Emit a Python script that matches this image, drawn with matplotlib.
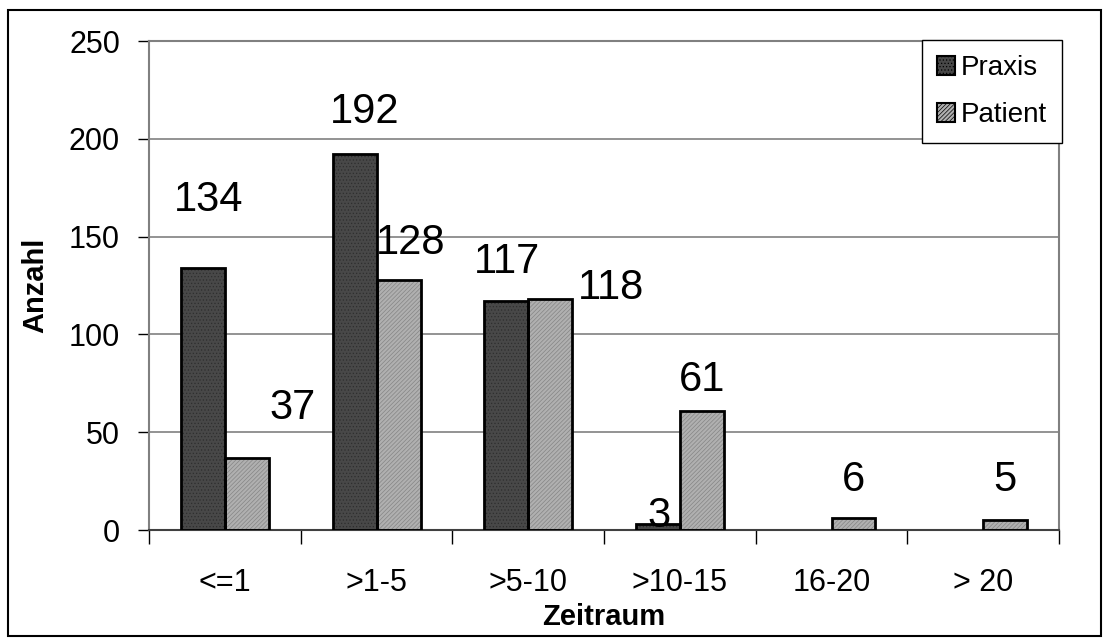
import numpy as np
import matplotlib
matplotlib.use("Agg")
import matplotlib.pyplot as plt
from matplotlib.patches import Rectangle

plt.rcParams['font.family'] = ['Liberation Sans', 'DejaVu Sans']
plt.rcParams['hatch.linewidth'] = 0.5

categories = ['<=1', '>1-5', '>5-10', '>10-15', '16-20', '> 20']
praxis = [134, 192, 117, 3, 0, 0]
patient = [37, 128, 118, 61, 6, 5]

# label offsets in pixels (dx, dy) relative to bar top centre, as placed in the original
praxis_off = [(6, 68), (10, 42), (1, 39), (1, 8), None, None]
patient_off = [(46, 50), (12, 37), (61, 11), (0, 31), (0, 38), (0, 40)]

fig = plt.figure(figsize=(11.09, 6.44), dpi=100)
ax = fig.add_axes([0.1344, 0.177, 0.8205, 0.7593])

x = np.arange(len(categories))
w = 0.29

# fill with hatch first, outline on top
ax.bar(x - w / 2, praxis, w, color='#484848', edgecolor='#2e2e2e', hatch='.....', lw=0, zorder=2)
ax.bar(x + w / 2, patient, w, color='#b0b0b0', edgecolor='#858585', hatch='////////', lw=0, zorder=2)
for i in range(len(categories)):
    if praxis[i] > 0:
        ax.bar(x[i] - w / 2, praxis[i], w, fill=False, edgecolor='black', lw=2, zorder=3)
    ax.bar(x[i] + w / 2, patient[i], w, fill=False, edgecolor='black', lw=2, zorder=3)

for i in range(len(categories)):
    if praxis_off[i] is not None:
        dx, dy = praxis_off[i]
        ax.annotate(str(praxis[i]), (x[i] - w / 2, praxis[i]), xytext=(dx, dy),
                    textcoords='offset pixels', ha='center', va='center', fontsize=30)
    dx, dy = patient_off[i]
    ax.annotate(str(patient[i]), (x[i] + w / 2, patient[i]), xytext=(dx, dy),
                textcoords='offset pixels', ha='center', va='center', fontsize=30)

ax.set_xlim(-0.5, len(categories) - 0.5)
ax.set_ylim(0, 250)
ax.set_yticks(np.arange(0, 251, 50))
ax.yaxis.grid(True, color='#808080', lw=1.2, zorder=0)
ax.set_axisbelow(True)
ax.tick_params(axis='y', labelsize=22, length=8, width=1, pad=13, color='black')

ax.set_xticks(x)
ax.set_xticklabels(categories)
ax.set_xticks(np.arange(-0.5, len(categories)), minor=True)
ax.tick_params(axis='x', which='major', length=0, labelsize=22, pad=27)
ax.tick_params(axis='x', which='minor', length=10, width=1, color='black')

for s in ['top', 'right', 'left']:
    ax.spines[s].set_color('#808080')
    ax.spines[s].set_linewidth(1.5)
ax.spines['bottom'].set_color('#404040')
ax.spines['bottom'].set_linewidth(1.5)

ax.set_ylabel('Anzahl', fontsize=21, fontweight='bold', labelpad=14)
ax.set_xlabel('Zeitraum', fontsize=21, fontweight='bold', labelpad=4)

leg = ax.legend(['Praxis', 'Patient'], loc='upper right', bbox_to_anchor=(1062 / 1109, 1 - 40 / 644),
                bbox_transform=fig.transFigure, fontsize=20, fancybox=False, framealpha=1,
                edgecolor='black', handlelength=0.65, handleheight=0.65, handletextpad=0.2,
                labelspacing=0.75, borderpad=0.55, borderaxespad=0)
leg.get_frame().set_linewidth(1)
for h in leg.legend_handles:
    h.set_edgecolor('black')
    h.set_linewidth(1.5)
leg.set_zorder(5)

fig.patches.append(Rectangle((8 / 1109, 1 - 636 / 644), 1093 / 1109, 626 / 644,
                             transform=fig.transFigure, fill=False, edgecolor='black', lw=1.5))

fig.savefig('out.png', dpi=100)
